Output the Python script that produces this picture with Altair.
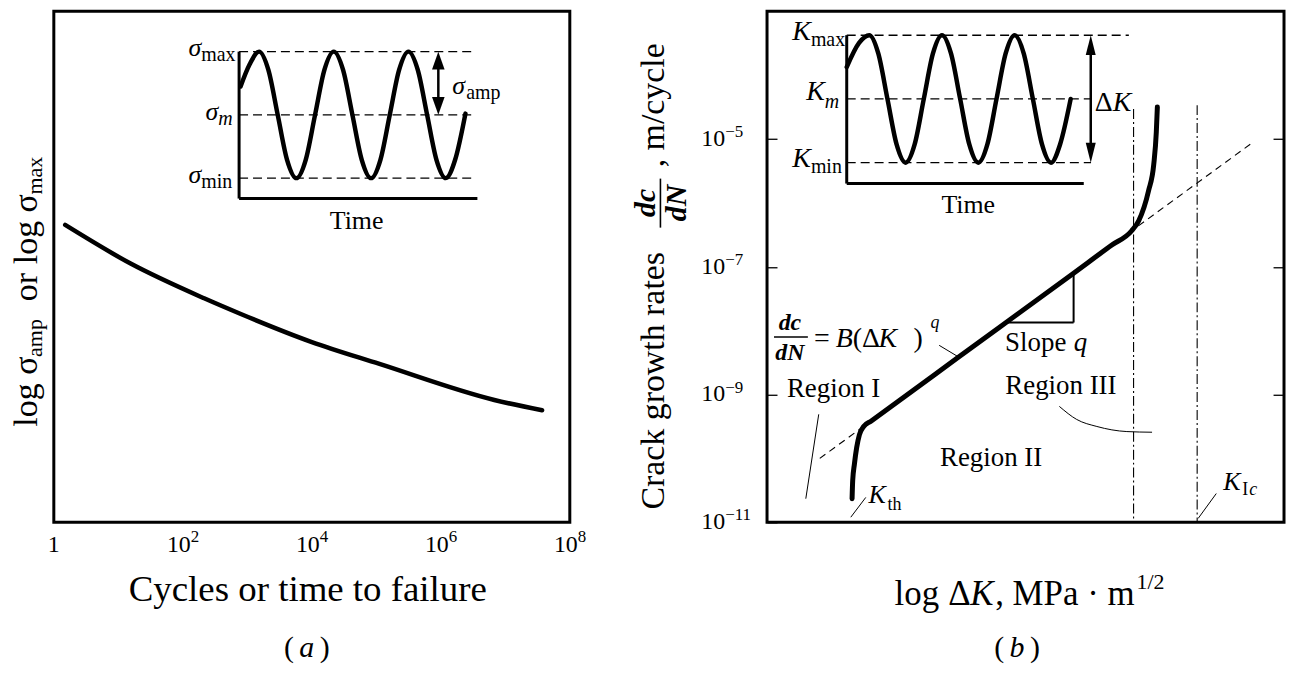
import altair as alt
import pandas as pd

FONT = "Liberation Serif"
WA, WB, H = 518, 519, 513

# ======================= (a) S-N curve =======================
a_cycles = [1.5, 15.5, 214, 776, 1.0e4, 1.12e5, 6.76e6, 3.72e7]
a_logsig = [2.31, 2.01, 1.74, 1.62, 1.40, 1.23, 0.95, 0.87]
a_xticks = [1, 1e2, 1e4, 1e6, 1e8]
a_xlab_pos = [1e2, 1e4, 1e6, 1e8]
a_xlab_sup = ["2", "4", "6", "8"]
a_yticks = [0.82, 1.83, 2.82]

# inset (a): time in load cycles, stress in units of the amplitude
ia_t = [0.02, 0.142, 0.267, 0.392, 0.517, 0.642, 0.767, 0.892, 1.017, 1.142, 1.267,
        1.392, 1.517, 1.642, 1.767, 1.892, 2.017, 2.142, 2.267, 2.392, 2.517, 2.642,
        2.767, 2.892, 3.03]
ia_s = [0.45, 0.80, 1.0, 0.71, 0.0, -0.71, -1.0, -0.71, 0.0, 0.71, 1.0,
        0.71, 0.0, -0.71, -1.0, -0.71, 0.0, 0.71, 1.0, 0.71, 0.0, -0.71,
        -1.0, -0.71, 0.02]
ia_levels = [1.0, 0.0, -1.0]

# ======================= (b) crack growth =======================
b_dk = [1.645, 1.657, 1.690, 1.734, 1.786, 1.869, 2.01, 3.68, 5.93, 6.67, 7.05,
        7.19, 7.38, 7.48, 7.53, 7.55]
b_rate = [2.34e-11, 4.47e-11, 8.13e-11, 1.48e-10, 2.34e-10, 3.16e-10, 3.83e-10,
          3.72e-9, 7.94e-8, 2.19e-7, 3.63e-7, 5.25e-7, 1.55e-6, 3.98e-6, 1.29e-5, 3.16e-5]
b_paris_dk = [1.02, 9.40]
b_paris_rate = [1.0e-10, 8.9e-6]
b_vlines_dk = [7.09, 8.32]
b_vlines_top = [2.95e-5, 3.39e-5]
b_yticks = [1e-11, 1e-9, 1e-7, 1e-5]
b_yticks_right = [1e-9, 1e-7, 1e-5]
b_ylab_sup = ["\u221211", "\u22129", "\u22127", "\u22125"]
b_r3_dk = [5.66, 5.99, 6.38, 6.96, 7.44]
b_r3_rate = [6.46e-10, 4.07e-10, 3.16e-10, 2.63e-10, 2.57e-10]

# inset (b)
ib_t = [0.0, 0.17, 0.31, 0.435, 0.56, 0.685, 0.81, 0.935, 1.06, 1.185, 1.31,
        1.435, 1.56, 1.685, 1.81, 1.935, 2.06, 2.185, 2.31, 2.435, 2.56, 2.685,
        2.81, 2.935, 3.08]
ib_s = [0.5, 0.88, 1.0, 0.71, 0.0, -0.71, -1.0, -0.71, 0.0, 0.71, 1.0,
        0.71, 0.0, -0.71, -1.0, -0.71, 0.0, 0.71, 1.0, 0.71, 0.0, -0.71,
        -1.0, -0.71, 0.0]

# ---------------- scales ----------------
XA = alt.Scale(type="log", domain=[1, 1e8], nice=False)
YA = alt.Scale(domain=[0, 3.97], nice=False, zero=False)
XIA = alt.Scale(domain=[-2.48, 4.427], nice=False, zero=False)
YIA = alt.Scale(domain=[-6.441, 1.638], nice=False, zero=False)
XB = alt.Scale(domain=[0, 10], nice=False, zero=False)
YB = alt.Scale(type="log", domain=[1e-11, 1e-3], nice=False)
XIB = alt.Scale(domain=[-1.096, 6.014], nice=False, zero=False)
YIB = alt.Scale(domain=[-6.641, 1.375], nice=False, zero=False)

UP = "M0,-1L0.7,1L-0.7,1Z"
DOWN = "M0,1L0.7,-1L-0.7,-1Z"
UPN = "M0,-1L0.5,1L-0.5,1Z"
DOWNN = "M0,1L0.5,-1L-0.5,-1Z"


def D(**cols):
    return pd.DataFrame(cols)


def T(data, xs, ys, size, style="normal", weight="normal", align="left",
      baseline="middle", angle=0, dx=0, dy=0):
    return alt.Chart(data).mark_text(
        font=FONT, fontSize=size, fontStyle=style, fontWeight=weight, align=align,
        baseline=baseline, angle=angle, dx=dx, dy=dy, color="black"
    ).encode(x=alt.X("x:Q", scale=xs, axis=None),
             y=alt.Y("y:Q", scale=ys, axis=None), text="text:N")


def R(data, xs, ys, width=1.2, dash=None, yaxis=None):
    m = dict(color="black", strokeWidth=width)
    if dash:
        m["strokeDash"] = dash
    enc = dict(x=alt.X("x:Q", scale=xs, axis=None),
               y=alt.Y("y:Q", scale=ys, axis=yaxis))
    if "x2" in data.columns:
        enc["x2"] = "x2:Q"
    if "y2" in data.columns:
        enc["y2"] = "y2:Q"
    return alt.Chart(data).mark_rule(**m).encode(**enc)


def L(data, xs, ys, width, xaxis=None, yaxis=None, interp="monotone", dash=None):
    m = dict(color="black", strokeWidth=width, interpolate=interp,
             strokeCap="round", strokeJoin="round")
    if dash:
        m["strokeDash"] = dash
    return alt.Chart(data).mark_line(**m).encode(
        x=alt.X("x:Q", scale=xs, axis=xaxis), y=alt.Y("y:Q", scale=ys, axis=yaxis))


def P(data, xs, ys, shape, size):
    return alt.Chart(data).mark_point(shape=shape, size=size, filled=True, opacity=1,
                                      color="black", strokeWidth=0).encode(
        x=alt.X("x:Q", scale=xs, axis=None), y=alt.Y("y:Q", scale=ys, axis=None))


tick_style = dict(labels=False, domain=False, grid=False, title=None,
                  tickColor="black", tickWidth=1.3)

# ======================= panel (a) =======================
ax_a_x = alt.Axis(values=a_xticks, tickSize=10, offset=-10, **tick_style)
ax_a_y = alt.Axis(orient="right", values=a_yticks, tickSize=12, offset=-12, **tick_style)

curveA = L(D(x=a_cycles, y=a_logsig), XA, YA, 4.5, xaxis=ax_a_x, yaxis=ax_a_y)

mainA = alt.layer(
    curveA,
    T(D(x=[1], y=[-0.232], text=["1"]), XA, YA, 24, align="center", baseline="alphabetic"),
    T(D(x=a_xlab_pos, y=[-0.232] * 4, text=["10"] * 4), XA, YA, 24, align="right",
      baseline="alphabetic", dx=8),
    T(D(x=a_xlab_pos, y=[-0.232] * 4, text=a_xlab_sup), XA, YA, 17, align="left",
      baseline="alphabetic", dx=8, dy=-10),
    T(D(x=[0.546] * 5, y=[0.743, 1.146, 1.718, 2.005, 2.407],
        text=["log", "σ", "or", "log", "σ"]), XA, YA, 34, baseline="alphabetic", angle=270),
    T(D(x=[0.653] * 2, y=[1.285, 2.546], text=["amp", "max"]), XA, YA, 22,
      baseline="alphabetic", angle=270),
    T(D(x=[8670], y=[-0.526], text=["Cycles or time to failure"]), XA, YA, 37, align="center"),
    T(D(x=[4416, 15880], y=[-0.975] * 2, text=["(", ")"]), XA, YA, 30, align="center"),
    T(D(x=[8370], y=[-0.975], text=["a"]), XA, YA, 30, style="italic", align="center"),
)

insetA = alt.layer(
    R(D(x=[0.0], y=[-1.323], y2=[1.0]), XIA, YIA, 3),
    R(D(x=[0.0], x2=[3.19], y=[-1.323]), XIA, YIA, 3),
    R(D(x=[0.0] * 3, x2=[3.17] * 3, y=ia_levels), XIA, YIA, 1.4, dash=[9, 5]),
    L(D(x=ia_t, y=ia_s), XIA, YIA, 4.5),
    R(D(x=[2.667], y=[0.16], y2=[0.84]), XIA, YIA, 2.5),
    P(D(x=[2.667], y=[0.858]), XIA, YIA, UP, 324),
    P(D(x=[2.667], y=[0.142]), XIA, YIA, DOWN, 324),
    T(D(x=[-0.507, -0.28, -0.507], y=[1.055, 0.047, -0.953], text=["σ", "σ", "σ"]),
      XIA, YIA, 26, style="italic", align="right"),
    T(D(x=[-0.507, -0.507], y=[0.945, -1.063], text=["max", "min"]), XIA, YIA, 20),
    T(D(x=[-0.28], y=[-0.063], text=["m"]), XIA, YIA, 20, style="italic"),
    T(D(x=[2.853], y=[0.457], text=["σ"]), XIA, YIA, 26, style="italic"),
    T(D(x=[3.04], y=[0.346], text=["amp"]), XIA, YIA, 20),
    T(D(x=[1.573], y=[-1.685], text=["Time"]), XIA, YIA, 26, align="center"),
)

panelA = alt.layer(mainA, insetA).resolve_scale(
    x="independent", y="independent").properties(width=WA, height=H)

# ======================= panel (b) =======================
ax_b_l = alt.Axis(orient="left", values=b_yticks, tickSize=10, offset=-10, **tick_style)
ax_b_r = alt.Axis(orient="right", values=b_yticks_right, tickSize=11, offset=-11, **tick_style)

mainB = alt.layer(
    R(D(x=[b_paris_dk[0]], x2=[b_paris_dk[1]], y=[b_paris_rate[0]], y2=[b_paris_rate[1]]),
      XB, YB, 1.1, dash=[7, 5], yaxis=ax_b_r),
    R(D(x=b_vlines_dk, y=b_vlines_top, y2=[1e-11, 1e-11]), XB, YB, 1.1, dash=[10, 3, 2, 3]),
    L(D(x=b_dk, y=b_rate), XB, YB, 5, yaxis=ax_b_l),
    # slope triangle
    R(D(x=[4.62], x2=[5.93], y=[1.34e-8]), XB, YB, 2),
    R(D(x=[5.93], y=[1.34e-8], y2=[7.94e-8]), XB, YB, 2),
    # leaders
    R(D(x=[8.69, 1.91, 1.00, 3.33], x2=[8.34, 1.62, 0.75, 3.68],
        y=[2.82e-11, 2.45e-11, 4.9e-10, 5.89e-9], y2=[1.15e-11, 1.20e-11, 2.34e-11, 3.98e-9]),
      XB, YB, 1),
    L(D(x=b_r3_dk, y=b_r3_rate), XB, YB, 1),
    # tick labels
    T(D(x=[-0.809] * 4, y=b_yticks, text=["10"] * 4), XB, YB, 24, align="right"),
    T(D(x=[-0.809] * 4, y=b_yticks, text=b_ylab_sup), XB, YB, 17, dy=-7),
    # y title
    T(D(x=[-1.985], y=[1.64e-9], text=["Crack growth rates"]), XB, YB, 34, align="center",
      baseline="alphabetic", angle=270),
    T(D(x=[-2.35, -1.74], y=[1.0e-6, 1.0e-6], text=["dc", "dN"]), XB, YB, 30,
      style="italic", weight="bold", align="center", angle=270),
    R(D(x=[-2.062], y=[2.4e-6], y2=[4.1e-7]), XB, YB, 1.6),
    T(D(x=[-1.985], y=[3.6e-6], text=[", m/cycle"]), XB, YB, 34, baseline="alphabetic",
      angle=270),
    # x title
    T(D(x=[2.466, 3.507, 4.413], y=[7.53e-13] * 3, text=["log", "Δ", ", MPa · m"]), XB, YB, 35),
    T(D(x=[3.931], y=[7.53e-13], text=["K"]), XB, YB, 35, style="italic"),
    T(D(x=[7.148], y=[1.16e-12], text=["1/2"]), XB, YB, 22),
    T(D(x=[4.489, 5.183], y=[1.08e-13] * 2, text=["(", ")"]), XB, YB, 30, align="center"),
    T(D(x=[4.836], y=[1.08e-13], text=["b"]), XB, YB, 30, style="italic", align="center"),
    # annotations
    T(D(x=[0.385], y=[1.23e-9], text=["Region I"]), XB, YB, 27),
    T(D(x=[4.335, 5.684], y=[1.03e-10, 1.37e-9], text=["Region II", "Region III"]),
      XB, YB, 27, align="center"),
    T(D(x=[4.605], y=[6.41e-9], text=["Slope"]), XB, YB, 27),
    T(D(x=[5.934], y=[6.41e-9], text=["q"]), XB, YB, 27, style="italic"),
    T(D(x=[0.443, 0.443], y=[1.32e-8, 4.46e-9], text=["dc", "dN"]), XB, YB, 24,
      style="italic", weight="bold", align="center"),
    R(D(x=[0.135], x2=[0.790], y=[7.96e-9]), XB, YB, 1.5),
    T(D(x=[1.060], y=[7.40e-9], text=["="]), XB, YB, 28, align="center"),
    T(D(x=[1.657, 2.832], y=[7.40e-9] * 2, text=["(Δ", ")"]), XB, YB, 28),
    T(D(x=[1.330, 2.158], y=[7.40e-9] * 2, text=["B", "K"]), XB, YB, 28, style="italic"),
    T(D(x=[3.160], y=[1.32e-8], text=["q"]), XB, YB, 18, style="italic"),
    T(D(x=[1.965, 8.825], y=[2.64e-11, 4.21e-11], text=["K", "K"]), XB, YB, 26, style="italic"),
    T(D(x=[2.331, 9.191], y=[1.84e-11, 3.16e-11], text=["th", "I"]), XB, YB, 18),
    T(D(x=[9.326], y=[3.16e-11], text=["c"]), XB, YB, 18, style="italic"),
).resolve_axis(y="independent")

insetB = alt.layer(
    R(D(x=[0.0], y=[-1.328], y2=[1.0]), XIB, YIB, 3),
    R(D(x=[0.0], x2=[3.26], y=[-1.328]), XIB, YIB, 3),
    R(D(x=[0.0] * 3, x2=[3.88, 3.36, 3.36], y=[1.0, 0.0, -1.0]), XIB, YIB, 1.4, dash=[9, 5]),
    L(D(x=ib_t, y=ib_s), XIB, YIB, 4.5),
    R(D(x=[3.356], y=[-0.85], y2=[0.85]), XIB, YIB, 2.5),
    P(D(x=[3.356], y=[0.844]), XIB, YIB, UPN, 400),
    P(D(x=[3.356], y=[-0.844]), XIB, YIB, DOWNN, 400),
    T(D(x=[-0.493, -0.301, -0.493], y=[1.047, 0.109, -0.9375], text=["K", "K", "K"]),
      XIB, YIB, 28, style="italic", align="right"),
    T(D(x=[-0.493, -0.493], y=[0.922, -1.0625], text=["max", "min"]), XIB, YIB, 20),
    T(D(x=[-0.301], y=[-0.047], text=["m"]), XIB, YIB, 20, style="italic"),
    T(D(x=[3.411], y=[-0.0625], text=["Δ"]), XIB, YIB, 28),
    T(D(x=[3.658], y=[-0.0625], text=["K"]), XIB, YIB, 28, style="italic"),
    T(D(x=[1.671], y=[-1.672], text=["Time"]), XIB, YIB, 26, align="center"),
)

panelB = alt.layer(mainB, insetB).resolve_scale(
    x="independent", y="independent").properties(width=WB, height=H)

chart = alt.hconcat(panelA, panelB, spacing=198, bounds="flush").properties(
    padding={"left": 0, "top": 0, "right": 0, "bottom": 0}, background="white"
).configure_view(stroke="black", strokeWidth=3)

chart.save("out.html", embed_options={"renderer": "svg", "actions": False})
